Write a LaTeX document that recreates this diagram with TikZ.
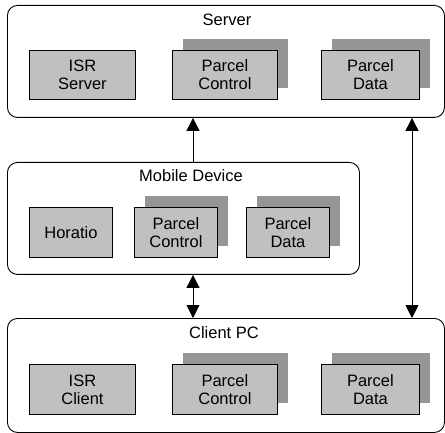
\documentclass[tikz,border=0pt]{standalone}
\usepackage{fontspec}
\setmainfont{Liberation Sans}
\usetikzlibrary{arrows.meta}
\definecolor{compfill}{HTML}{C0C0C0}
\definecolor{shadfill}{HTML}{969696}
\newcommand\lbl{\fontsize{16.5}{18}\selectfont}
\begin{document}
\begin{tikzpicture}[x=1pt,y=1pt,
 outer/.style={draw, rounded corners=10pt, line width=0.9pt, anchor=north west, inner sep=0pt},
 comp/.style={draw, fill=compfill, line width=0.9pt, anchor=north west, inner sep=0pt, align=center, font=\lbl},
 shad/.style={fill=shadfill, anchor=north west, inner sep=0pt},
 boxtitle/.style={font=\lbl, inner sep=0pt},
 arr/.style={line width=0.9pt, -{Triangle[width=13pt,length=13pt]}},
 darr/.style={line width=0.9pt, {Triangle[width=13pt,length=13pt]}-{Triangle[width=13pt,length=13pt]}}
]
\useasboundingbox (0,0) rectangle (445,-433);
% outer boxes
\node[outer, minimum width=437pt, minimum height=112pt] (server) at (7,-5) {};
\node[outer, minimum width=352pt, minimum height=112pt] (mobile) at (7,-162) {};
\node[outer, minimum width=437pt, minimum height=114pt] (client) at (7,-318) {};
% titles
\node[boxtitle] (serverT) at (227,-20) {Server};
\node[boxtitle] (mobileT) at (191,-176) {Mobile Device};
\node[boxtitle] (clientT) at (224,-333) {Client PC};
% server row
\node[comp, minimum width=106pt, minimum height=49pt] (isrs) at (29,-50) {ISR\\Server};
\node[shad, minimum width=105pt, minimum height=49pt] (spcS) at (183,-39) {};
\node[comp, minimum width=105pt, minimum height=49pt] (spc) at (172,-50) {Parcel\\Control};
\node[shad, minimum width=98pt, minimum height=49pt] (spdS) at (332,-39) {};
\node[comp, minimum width=98pt, minimum height=49pt] (spd) at (321,-50) {Parcel\\Data};
% mobile row
\node[comp, minimum width=83pt, minimum height=50pt] (hor) at (29,-207) {Horatio};
\node[shad, minimum width=83pt, minimum height=50pt] (mpcS) at (145,-196) {};
\node[comp, minimum width=83pt, minimum height=50pt] (mpc) at (134,-207) {Parcel\\Control};
\node[shad, minimum width=83pt, minimum height=50pt] (mpdS) at (257,-196) {};
\node[comp, minimum width=83pt, minimum height=50pt] (mpd) at (246,-207) {Parcel\\Data};
% client row
\node[comp, minimum width=106pt, minimum height=50pt] (isrc) at (29,-364) {ISR\\Client};
\node[shad, minimum width=105pt, minimum height=50pt] (cpcS) at (183,-353) {};
\node[comp, minimum width=105pt, minimum height=50pt] (cpc) at (172,-364) {Parcel\\Control};
\node[shad, minimum width=98pt, minimum height=50pt] (cpdS) at (332,-353) {};
\node[comp, minimum width=98pt, minimum height=50pt] (cpd) at (321,-364) {Parcel\\Data};
% connectors
\coordinate (aL) at (193,0);
\coordinate (aR) at (412,0);
\draw[arr] (mobile.north -| aL) -- (server.south -| aL);
\draw[darr] (mobile.south -| aL) -- (client.north -| aL);
\draw[darr] (server.south -| aR) -- (client.north -| aR);
\end{tikzpicture}
\end{document}
